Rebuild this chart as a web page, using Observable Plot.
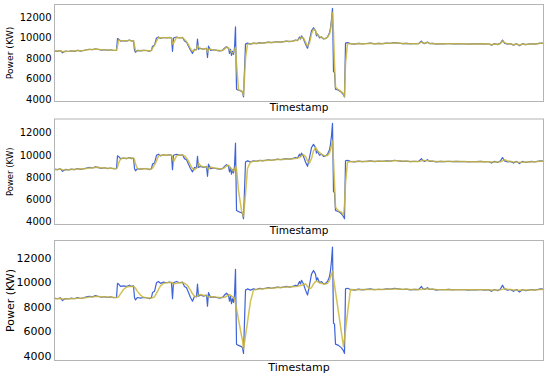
<!DOCTYPE html>
<html><head><meta charset="utf-8">
<script src="https://cdn.jsdelivr.net/npm/d3@7"></script>
<script src="https://cdn.jsdelivr.net/npm/@observablehq/plot@0.6"></script>
<style>
body{margin:0;background:#fff;}
#chart{width:550px;height:376px;}
#chart svg{display:block;overflow:visible;}
</style></head><body><div id="chart"></div>
<script>
// sample positions along the (unlabelled) timestamp axis
const timestamp = [
  0,3,6,8,11,14,17,20,23,26,29,32,35,38,41,44,47,50,53,56,59,62,
  63,64,66,69,72,75,77,79,80,81,83,86,89,92,95,97,
  98,100,102,104,106,109,112,115,117,118,119,122,125,128,130,132,134,136,138,140,142,
  143,144,146,149,152,153,154,156,159,162,165,168,170,172,174,175,176,177,178,179,180,
  181,182,184,187,188,189,191,193,196,199,
  202,205,208,211,214,217,220,223,226,229,232,235,238,241,243,
  245,246,247,249,251,253,255,257,259,261,262,263,265,267,269,271,273,275,276,277,
  278,279,280,281,284,287,289,290,291,293,
  296,300,304,308,312,316,320,324,328,332,336,340,344,348,352,356,360,364,367,368,
  370,373,375,378,382,386,390,394,398,402,406,410,414,418,422,426,430,434,437,440,
  443,446,448,450,453,456,459,462,465,468,471,474,477,480,483,486,489
];
const actual = [
  8750,8700,8780,8550,8720,8680,8750,8700,8800,8720,8780,8850,8900,8850,8950,8880,8820,8870,8800,8850,8780,8800,
  9950,9900,9700,9750,9700,9800,9700,9750,8800,8600,8800,8750,8800,8780,8700,8800,
  9200,9300,10000,10100,9950,10050,10000,10050,10000,8700,10000,10100,10000,10050,9700,9600,9200,8800,8500,8900,8850,
  9900,8900,9000,8900,9000,8100,9200,8800,8850,8800,8750,8800,9000,9150,9000,8500,8900,8300,8700,8400,9000,
  11100,5000,4900,4800,4700,4250,9400,9500,9400,9500,
  9450,9550,9500,9550,9600,9550,9600,9650,9600,9650,9700,9650,9700,9800,9750,
  10100,9900,10200,9900,9400,9000,9800,10700,11000,10700,10200,10400,10000,10100,9900,9950,10100,10500,11000,11800,
  12900,6700,6650,5000,4900,4700,4450,4250,9500,9550,
  9450,9400,9480,9420,9460,9500,9430,9470,9450,9500,9480,9550,9500,9450,9480,9420,9460,9440,9700,9550,
  9450,9600,9450,9480,9400,9450,9430,9460,9420,9450,9430,9440,9400,9430,9420,9450,9400,9440,9300,9450,
  9350,9500,9800,9500,9400,9450,9300,9450,9250,9450,9350,9400,9450,9400,9450,9500,9480
];
const predicted1 = [
  8720,8730,8760,8650,8690,8700,8730,8720,8780,8750,8770,8830,8880,8870,8920,8900,8840,8860,8820,8840,8800,8800,
  9200,9800,9750,9730,9720,9780,9720,9740,9300,8750,8720,8770,8790,8780,8730,8780,
  9000,9280,9700,10050,10000,10030,10020,10040,10010,9400,9500,10050,10030,10040,9850,9650,9350,8950,8700,8800,8870,
  9300,9100,8950,8920,8980,8600,8900,8900,8840,8810,8770,8790,8920,9100,9050,8800,8750,8600,8550,8600,8800,
  9100,7500,4950,4850,4750,4400,8000,9400,9450,9480,
  9470,9520,9510,9540,9580,9570,9590,9630,9620,9640,9680,9670,9690,9760,9770,
  9950,10000,10050,10000,9600,9200,9500,10400,10850,10750,10400,10300,10150,10050,9950,9930,10050,10400,10800,11500,
  12500,10500,7500,5200,4950,4750,4550,4300,7500,9450,
  9450,9420,9460,9440,9450,9480,9450,9460,9450,9480,9480,9520,9510,9470,9470,9440,9450,9445,9600,9580,
  9480,9550,9480,9470,9420,9440,9435,9450,9430,9445,9435,9440,9415,9425,9420,9440,9415,9430,9350,9420,
  9380,9460,9700,9550,9430,9440,9340,9420,9300,9420,9370,9390,9440,9410,9440,9480,9480
];
const predicted2 = [
  8700,8720,8750,8700,8680,8700,8720,8710,8760,8760,8760,8800,8860,8870,8900,8910,8850,8850,8830,8830,8810,8800,
  8900,9300,9650,9750,9720,9760,9750,9740,9600,9200,8800,8760,8780,8780,8740,8760,
  8850,9150,9500,9950,10000,10020,10010,10030,10020,9800,9400,9950,10030,10030,9950,9750,9500,9100,8800,8700,8850,
  8900,9300,9050,8950,8970,8900,8700,8950,8850,8820,8780,8790,8870,9050,9100,9000,8800,8800,8600,8600,8650,
  9000,8800,6800,5000,4800,4450,6500,8800,9400,9450,
  9470,9500,9520,9530,9560,9580,9580,9610,9620,9630,9660,9670,9680,9720,9760,
  9800,9900,9950,10050,9900,9500,9300,9700,10400,10700,10600,10400,10250,10100,10000,9950,9980,10200,10500,10900,
  11300,9500,7500,5300,4950,4850,4550,5500,7500,9400,
  9420,9430,9440,9445,9450,9465,9460,9460,9455,9470,9475,9500,9510,9480,9470,9450,9450,9445,9480,9560,
  9520,9500,9500,9470,9440,9430,9435,9445,9435,9440,9435,9438,9425,9425,9422,9435,9420,9425,9400,9390,
  9400,9420,9500,9600,9480,9440,9400,9400,9360,9380,9390,9385,9410,9420,9430,9460,9480
];
const predicted3 = [
  8700,8700,8720,8700,8680,8690,8700,8710,8730,8740,8760,8790,8830,8850,8880,8890,8870,8860,8840,8830,8810,8800,
  8800,8850,9100,9450,9650,9700,9720,9700,9650,9550,9300,9000,8820,8780,8760,8760,
  8780,8850,9150,9450,9750,9950,10000,10020,10030,10000,9900,9950,10000,10020,9950,9850,9650,9400,9100,8900,8880,
  8900,9000,9050,8980,8950,8900,8850,8870,8860,8830,8800,8790,8820,8900,9000,9020,9000,8900,8850,8800,8700,
  8300,7900,7000,5700,5300,4600,5700,6800,8500,9400,
  9450,9500,9510,9530,9560,9570,9580,9610,9620,9630,9660,9670,9680,9700,9720,
  9750,9780,9800,9870,9900,9700,9500,9600,9900,10100,10150,10100,10000,9950,9900,9900,9950,10200,10450,10700,
  10900,10350,9800,9250,7600,5900,4800,5500,6150,7500,
  9450,9440,9440,9445,9450,9460,9460,9460,9460,9470,9475,9490,9500,9480,9470,9460,9455,9450,9460,9480,
  9490,9500,9490,9470,9450,9440,9440,9445,9440,9440,9438,9438,9430,9428,9425,9430,9425,9425,9410,9410,
  9400,9420,9460,9520,9480,9450,9420,9410,9390,9400,9400,9400,9410,9420,9430,9450,9460
];
const yTicks = [4000, 6000, 8000, 10000, 12000];
const yLabel = "Power (KW)";
const xLabel = "Timestamp";

const panels = [
  {pred: predicted1, height: 114, mt: 4, mb: 13, yDomain: [3800, 13270], tickFont: 10, yLabFont: 9.2, xLabFont: 10.5, xdy: 6},
  {pred: predicted2, height: 121, mt: 4.5, mb: 11, yDomain: [3730, 13290], tickFont: 10, yLabFont: 8.5, xLabFont: 10.5, xdy: 6},
  {pred: predicted3, height: 141, mt: 5, mb: 16, yDomain: [3670, 13440], tickFont: 11, yLabFont: 11, xLabFont: 11, xdy: 7}
];

const blue = "#3f63d8";
const gold = "#cbb63a";
const root = document.getElementById("chart");
for (const p of panels) {
  const svg = Plot.plot({
    width: 550,
    height: p.height,
    marginLeft: 54,
    marginRight: 7,
    marginTop: p.mt,
    marginBottom: p.mb,
    style: {fontFamily: "DejaVu Sans", color: "#000", background: "#fff", overflow: "visible"},
    x: {domain: [0, 489], axis: null},
    y: {domain: p.yDomain},
    marks: [
      Plot.line(actual, {x: timestamp, y: actual, stroke: blue, strokeWidth: 1.2}),
      Plot.line(p.pred, {x: timestamp, y: p.pred, stroke: gold, strokeWidth: 1.5, strokeOpacity: 0.85}),
      Plot.frame({stroke: "#b4b4b4", strokeWidth: 1}),
      Plot.axisY({ticks: yTicks, tickSize: 0, tickPadding: 3, tickFormat: d3.format("d"), label: null, fontSize: p.tickFont}),
      Plot.text([yLabel], {frameAnchor: "left", dx: -44.5, rotate: -90, textAnchor: "middle", lineAnchor: "middle", fontSize: p.yLabFont, fill: "#000"}),
      Plot.text([xLabel], {frameAnchor: "bottom", dy: p.xdy, textAnchor: "middle", lineAnchor: "middle", fontSize: p.xLabFont, fill: "#000"})
    ]
  });
  root.appendChild(svg);
}
</script>
</body></html>
